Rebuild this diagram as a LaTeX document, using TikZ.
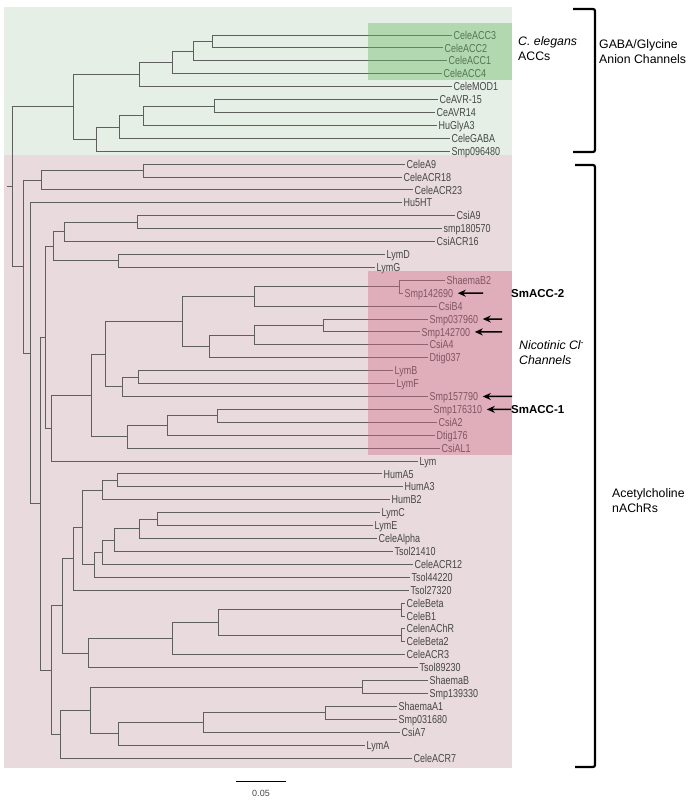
\documentclass[tikz,border=0pt]{standalone}
\usepackage{fontspec}
\setmainfont{Liberation Sans}
\newfontfamily\etroite[FakeStretch=0.78]{Liberation Sans}
\usepackage{xcolor}
\usepackage{tikz}
\usetikzlibrary{arrows.meta,positioning,calc}
\definecolor{vertClair}{RGB}{229,239,230}
\definecolor{roseClair}{RGB}{233,219,221}
\definecolor{vertFonce}{RGB}{107,185,98}
\definecolor{roseFonce}{RGB}{212,109,138}
\definecolor{gris}{RGB}{95,95,95}
\definecolor{texte}{RGB}{70,70,70}

\begin{document}
\begin{tikzpicture}[x=1pt,y=-1pt,
  branche/.style={draw=gris,line width=0.9pt},
  feuille/.style={anchor=west,inner sep=1.5pt,text height=8.2pt,text depth=0pt,
                  font=\etroite\fontsize{11.5}{12}\selectfont,text=texte},
  annot/.style={anchor=west,inner sep=0pt,align=left,font=\fontsize{12.3}{15}\selectfont},
  nomSm/.style={anchor=west,inner sep=0pt,font=\bfseries\fontsize{11.5}{13}\selectfont},
  fleche/.style={-{Stealth[length=8pt,width=7pt]},line width=1.5pt,black},
  accolade/.style={line width=2.2pt,black,rounded corners=2pt}]

  \useasboundingbox (0,0) rectangle (694,800);

  % fonds
  \fill[vertClair] (4,7) rectangle (512,155);
  \fill[roseClair] (4,155) rectangle (512,768);

  % feuilles
  \foreach \nom/\x/\txt [count=\i] in {
    CeleACC3/452/CeleACC3, CeleACC2/443/CeleACC2, CeleACC1/447/CeleACC1,
    CeleACC4/442/CeleACC4, CeleMOD1/452/CeleMOD1, CeAVR15/438/CeAVR-15,
    CeAVR14/435/CeAVR14, HuGlyA3/437/HuGlyA3, CeleGABA/450/CeleGABA,
    Smp096480/450/Smp096480, CeleA9/405/CeleA9, CeleACR18/402/CeleACR18,
    CeleACR23/413/CeleACR23, Hu5HT/402/Hu5HT, CsiA9/455/CsiA9,
    smp180570/442/smp180570, CsiACR16/435/CsiACR16, LymD/385/LymD,
    LymG/375/LymG, ShaemaB2/445/ShaemaB2, Smp142690/403/Smp142690,
    CsiB4/437/CsiB4, Smp037960/428/Smp037960, Smp142700/420/Smp142700,
    CsiA4/428/CsiA4, Dtig037/428/Dtig037, LymB/393/LymB,
    LymF/395/LymF, Smp157790/428/Smp157790, Smp176310/432/Smp176310,
    CsiA2/437/CsiA2, Dtig176/435/Dtig176, CsiAL1/440/CsiAL1,
    Lym/418/Lym, HumA5/382/HumA5, HumA3/403/HumA3,
    HumB2/390/HumB2, LymC/380/LymC, LymE/373/LymE,
    CeleAlpha/377/CeleAlpha, Tsol21410/393/Tsol21410, CeleACR12/413/CeleACR12,
    Tsol44220/410/Tsol44220, Tsol27320/409/Tsol27320, CeleBeta/405/CeleBeta,
    CeleB1/405/CeleB1, CelenAChR/405/CelenAChR, CeleBeta2/405/CeleBeta2,
    CeleACR3/405/CeleACR3, Tsol89230/418/Tsol89230, ShaemaB/428/ShaemaB,
    Smp139330/428/Smp139330, ShaemaA1/397/ShaemaA1, Smp031680/397/Smp031680,
    CsiA7/400/CsiA7, LymA/365/LymA, CeleACR7/412/CeleACR7}
    \node[feuille] (\nom) at (\x,{35+(\i-1)*12.91}) {\txt};

  % noeuds internes
  \coordinate (g1) at (212,41.46);
  \coordinate (g2) at (193,51.14);
  \coordinate (g3) at (172,62.44);
  \coordinate (g4) at (139,74.54);
  \coordinate (g5) at (214,106.0);
  \coordinate (g6) at (143,115.69);
  \coordinate (g7) at (119,126.99);
  \coordinate (g8) at (96,139.09);
  \coordinate (gaba) at (73,106.82);
  \coordinate (a1) at (143,170.56);
  \coordinate (a2) at (41,180.24);
  \coordinate (b1) at (137,222.2);
  \coordinate (b2) at (64,231.88);
  \coordinate (b3) at (118,260.93);
  \coordinate (b4) at (53,246.4);
  \coordinate (c1) at (399,286.75);
  \coordinate (c2) at (254,296.43);
  \coordinate (c3) at (323,325.48);
  \coordinate (c4) at (254,335.16);
  \coordinate (c5) at (209,346.45);
  \coordinate (c6) at (182,321.44);
  \coordinate (c7) at (138,377.12);
  \coordinate (c8) at (122,386.8);
  \coordinate (c9) at (105,354.12);
  \coordinate (d1) at (217,415.85);
  \coordinate (d2) at (167,425.53);
  \coordinate (d3) at (127,436.83);
  \coordinate (d4) at (91,395.48);
  \coordinate (d5) at (51,428.26);
  \coordinate (b5) at (45,337.33);
  \coordinate (e1) at (117,480.4);
  \coordinate (e2) at (102,490.08);
  \coordinate (e3) at (157,519.13);
  \coordinate (e4) at (139,528.81);
  \coordinate (e5) at (114,540.1);
  \coordinate (e6) at (102,552.2);
  \coordinate (e7) at (94,564.71);
  \coordinate (e8) at (82,527.4);
  \coordinate (e9) at (73,558.76);
  \coordinate (h1) at (401,609.5);
  \coordinate (h2) at (401,635.32);
  \coordinate (h3) at (218,622.41);
  \coordinate (h4) at (172,638.55);
  \coordinate (h5) at (88,653.07);
  \coordinate (h6) at (62,605.91);
  \coordinate (k1) at (362,686.96);
  \coordinate (k2) at (325,712.78);
  \coordinate (k3) at (203,722.46);
  \coordinate (k4) at (118,733.76);
  \coordinate (k5) at (90,710.36);
  \coordinate (k6) at (60,734.16);
  \coordinate (k7) at (51,670.04);
  \coordinate (m1) at (40,503.69);
  \coordinate (m2) at (30,353.26);
  \coordinate (nach) at (23,266.75);
  \coordinate (racine) at (12,186.79);
  \coordinate (souche) at (7,186.79);

  % branches
  \draw[branche] (souche) -- (racine);
  \draw[branche] (racine) |- (gaba) (racine) |- (nach);
  \draw[branche] (gaba) |- (g4) (gaba) |- (g8);
  \draw[branche] (g4) |- (g3) (g4) |- (CeleMOD1.west);
  \draw[branche] (g3) |- (g2) (g3) |- (CeleACC4.west);
  \draw[branche] (g2) |- (g1) (g2) |- (CeleACC1.west);
  \draw[branche] (g1) |- (CeleACC3.west) (g1) |- (CeleACC2.west);
  \draw[branche] (g8) |- (g7) (g8) |- (Smp096480.west);
  \draw[branche] (g7) |- (g6) (g7) |- (CeleGABA.west);
  \draw[branche] (g6) |- (g5) (g6) |- (HuGlyA3.west);
  \draw[branche] (g5) |- (CeAVR15.west) (g5) |- (CeAVR14.west);

  \draw[branche] (nach) |- (a2) (nach) |- (m2);
  \draw[branche] (a2) |- (a1) (a2) |- (CeleACR23.west);
  \draw[branche] (a1) |- (CeleA9.west) (a1) |- (CeleACR18.west);
  \draw[branche] (m2) |- (Hu5HT.west) (m2) |- (m1);
  \draw[branche] (m1) |- (b5) (m1) |- (k7);
  \draw[branche] (b5) |- (b4) (b5) |- (d5);
  \draw[branche] (b4) |- (b2) (b4) |- (b3);
  \draw[branche] (b2) |- (b1) (b2) |- (CsiACR16.west);
  \draw[branche] (b1) |- (CsiA9.west) (b1) |- (smp180570.west);
  \draw[branche] (b3) |- (LymD.west) (b3) |- (LymG.west);
  \draw[branche] (d5) |- (d4) (d5) |- (Lym.west);
  \draw[branche] (d4) |- (c9) (d4) |- (d3);
  \draw[branche] (c9) |- (c6) (c9) |- (c8);
  \draw[branche] (c6) |- (c2) (c6) |- (c5);
  \draw[branche] (c2) |- (c1) (c2) |- (CsiB4.west);
  \draw[branche] (c1) |- (ShaemaB2.west) (c1) |- (Smp142690.west);
  \draw[branche] (c5) |- (c4) (c5) |- (Dtig037.west);
  \draw[branche] (c4) |- (c3) (c4) |- (CsiA4.west);
  \draw[branche] (c3) |- (Smp037960.west) (c3) |- (Smp142700.west);
  \draw[branche] (c8) |- (c7) (c8) |- (Smp157790.west);
  \draw[branche] (c7) |- (LymB.west) (c7) |- (LymF.west);
  \draw[branche] (d3) |- (d2) (d3) |- (CsiAL1.west);
  \draw[branche] (d2) |- (d1) (d2) |- (Dtig176.west);
  \draw[branche] (d1) |- (Smp176310.west) (d1) |- (CsiA2.west);

  \draw[branche] (k7) |- (h6) (k7) |- (k6);
  \draw[branche] (h6) |- (e9) (h6) |- (h5);
  \draw[branche] (e9) |- (e8) (e9) |- (Tsol27320.west);
  \draw[branche] (e8) |- (e2) (e8) |- (e7);
  \draw[branche] (e2) |- (e1) (e2) |- (HumB2.west);
  \draw[branche] (e1) |- (HumA5.west) (e1) |- (HumA3.west);
  \draw[branche] (e7) |- (e6) (e7) |- (Tsol44220.west);
  \draw[branche] (e6) |- (e5) (e6) |- (CeleACR12.west);
  \draw[branche] (e5) |- (e4) (e5) |- (Tsol21410.west);
  \draw[branche] (e4) |- (e3) (e4) |- (CeleAlpha.west);
  \draw[branche] (e3) |- (LymC.west) (e3) |- (LymE.west);
  \draw[branche] (h5) |- (h4) (h5) |- (Tsol89230.west);
  \draw[branche] (h4) |- (h3) (h4) |- (CeleACR3.west);
  \draw[branche] (h3) |- (h1) (h3) |- (h2);
  \draw[branche] (h1) |- (CeleBeta.west) (h1) |- (CeleB1.west);
  \draw[branche] (h2) |- (CelenAChR.west) (h2) |- (CeleBeta2.west);
  \draw[branche] (k6) |- (k5) (k6) |- (CeleACR7.west);
  \draw[branche] (k5) |- (k1) (k5) |- (k4);
  \draw[branche] (k1) |- (ShaemaB.west) (k1) |- (Smp139330.west);
  \draw[branche] (k4) |- (k3) (k4) |- (LymA.west);
  \draw[branche] (k3) |- (k2) (k3) |- (CsiA7.west);
  \draw[branche] (k2) |- (ShaemaA1.west) (k2) |- (Smp031680.west);

  % zones foncees
  \fill[vertFonce,fill opacity=0.41] (368,22.7) rectangle (512,80);
  \fill[roseFonce,fill opacity=0.41] (368,270.7) rectangle (512,455);

  % legendes
  \node[annot] (accs) at (518,48.5) {\textit{C. elegans}\\ACCs};
  \node[annot] (gabaTxt) at (599,52) {GABA/Glycine\\Anion Channels};
  \node[annot,font=\itshape\fontsize{12.3}{15}\selectfont] (nicoTxt) at (519,353)
    {Nicotinic Cl\textsuperscript{-}\\Channels};
  \node[annot] (achTxt) at (612,501) {Acetylcholine\\nAChRs};
  \node[nomSm] (smacc2) at (511,293.2) {SmACC-2};
  \node[nomSm] (smacc1) at (511,409.39) {SmACC-1};

  % fleches
  \coordinate (f1) at (483,293.2);
  \coordinate (f2) at (502,319.02);
  \coordinate (f3) at (502,331.93);
  \coordinate (f4) at (512,396.48);
  \draw[fleche] (f1) -- ([xshift=3pt]Smp142690.east);
  \draw[fleche] (f2) -- ([xshift=3pt]Smp037960.east);
  \draw[fleche] (f3) -- ([xshift=3pt]Smp142700.east);
  \draw[fleche] (f4) -- ([xshift=3pt]Smp157790.east);
  \draw[fleche] (smacc1.west) -- ([xshift=3pt]Smp176310.east);

  % accolades
  \draw[accolade] (573,9) -| (595,152) -- (573,152);
  \draw[accolade] (575,165) -| (595,767) -- (575,767);

  % echelle
  \node[font=\fontsize{9}{10}\selectfont,text=texte] (echelle) at (261,793) {0.05};
  \draw[line width=1.2pt] (236,781.7) -- (286,781.7);
\end{tikzpicture}
\end{document}
